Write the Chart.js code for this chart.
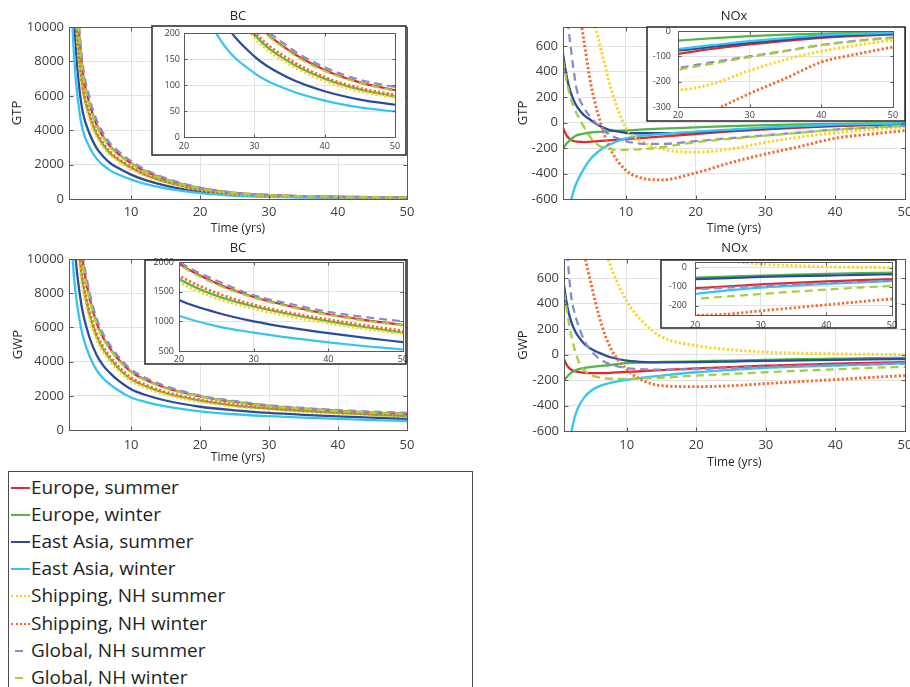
<!DOCTYPE html>
<html>
<head>
<meta charset="utf-8">
<script src="https://cdn.jsdelivr.net/npm/chart.js@4.4.1/dist/chart.umd.min.js"></script>
<style>
  html, body { margin: 0; padding: 0; background: #fff; overflow: hidden; }
  body { width: 910px; height: 687px; position: relative; }
  canvas { position: absolute; }
  #legend {
    position: absolute; left: 8px; top: 471px; width: 463px; height: 240px;
    border: 1px solid #4d4d4d; background: #fff;
    font-family: 'Open Sans', sans-serif; font-size: 19px; color: #231f20;
  }
  .row { position: absolute; left: 0; width: 100%; height: 27px; }
  .swatch { position: absolute; top: 13px; height: 0; }
  .name { position: absolute; left: 22px; top: 0; line-height: 27px; white-space: nowrap; }
</style>
</head>
<body>
<div id="legend"></div>
<script>
// years after emission, shared by every curve
const YEARS = [1, 1.5, 2, 2.5, 3, 4, 5, 6, 7, 8, 10, 12, 15, 20, 25, 30, 35, 40, 45, 50];

const SERIES = [
  'Europe, summer', 'Europe, winter', 'East Asia, summer', 'East Asia, winter',
  'Shipping, NH summer', 'Shipping, NH winter', 'Global, NH summer', 'Global, NH winter'
];

// one row per series, same order as SERIES
const BC_GTP = [
  [29400, 18400, 12700, 9400, 7360, 5520, 4320, 3590, 3040, 2670, 2080, 1620, 1140, 626, 350, 226, 166, 129, 105, 90],
  [25600, 16000, 11040, 8160, 6400, 4800, 3760, 3120, 2640, 2320, 1810, 1410, 990, 545, 305, 197, 144, 112, 91, 78],
  [20160, 12600, 8690, 6430, 5040, 3780, 2960, 2460, 2080, 1830, 1420, 1110, 780, 430, 240, 155, 113, 88, 72, 62],
  [16000, 10000, 6900, 5100, 4000, 3000, 2350, 1950, 1650, 1450, 1130, 880, 620, 340, 190, 123, 90, 70, 57, 49],
  [24800, 15500, 10700, 7900, 6200, 4650, 3640, 3020, 2560, 2250, 1750, 1365, 960, 527, 295, 191, 140, 108, 88, 76],
  [26400, 16500, 11400, 8400, 6600, 4950, 3880, 3220, 2720, 2390, 1865, 1450, 1025, 561, 314, 203, 149, 115, 94, 81],
  [31200, 19500, 13450, 9950, 7800, 5850, 4580, 3800, 3220, 2830, 2200, 1720, 1210, 663, 370, 234, 172, 134, 110, 96],
  [29100, 18200, 12560, 9280, 7280, 5460, 4280, 3550, 3000, 2640, 2060, 1600, 1130, 619, 346, 224, 164, 127, 104, 89]
];

const NOX_GTP = [
  [-40, -100, -130, -145, -150, -153, -150, -146, -142, -138, -130, -122, -110, -90, -70, -53, -39, -27, -19, -13],
  [-209, -165, -139, -115, -99, -86, -78, -73, -70, -67, -62, -56, -48, -38, -28, -20, -14, -10, -7, -5],
  [541, 370, 255, 180, 125, 58, 18, -20, -45, -62, -80, -84, -84, -77, -62, -47, -34, -23, -15, -10],
  [-1300, -900, -660, -540, -465, -361, -282, -230, -191, -165, -125, -105, -90, -71, -55, -40, -28, -17, -11, -7],
  [1650, 1550, 1450, 1350, 1250, 1060, 870, 670, 450, 245, -40, -137, -205, -232, -207, -156, -113, -80, -56, -36],
  [1700, 1530, 1360, 1180, 1000, 640, 300, 70, -105, -230, -375, -432, -450, -395, -315, -247, -187, -123, -91, -63],
  [1100, 880, 640, 420, 250, 115, 40, -20, -70, -105, -145, -165, -168, -146, -122, -100, -78, -55, -38, -25],
  [490, 330, 210, 130, 65, -35, -120, -175, -200, -210, -215, -210, -195, -154, -128, -103, -80, -56, -40, -27]
];

const BC_GWP = [
  [27400, 18260, 14140, 11635, 9845, 7700, 6265, 5370, 4745, 4205, 3400, 2955, 2470, 1970, 1640, 1410, 1250, 1120, 1020, 940],
  [23900, 15900, 12300, 10140, 8580, 6710, 5460, 4680, 4130, 3670, 2960, 2575, 2150, 1715, 1430, 1250, 1115, 1000, 900, 810],
  [19100, 12750, 9880, 8130, 6880, 5380, 4380, 3750, 3310, 2940, 2380, 2060, 1725, 1360, 1150, 1000, 890, 800, 720, 650],
  [15300, 10200, 7900, 6500, 5500, 4300, 3500, 3000, 2650, 2350, 1900, 1650, 1380, 1095, 920, 810, 720, 645, 580, 525],
  [23100, 15400, 11930, 9815, 8300, 6490, 5285, 4530, 4000, 3550, 2870, 2490, 2085, 1660, 1390, 1215, 1080, 970, 870, 790],
  [24600, 16420, 12720, 10465, 8855, 6920, 5635, 4830, 4265, 3785, 3060, 2655, 2220, 1770, 1480, 1280, 1140, 1030, 930, 840],
  [28500, 18970, 14690, 12090, 10230, 8000, 6510, 5580, 4930, 4370, 3535, 3070, 2570, 2010, 1690, 1440, 1290, 1160, 1070, 1000],
  [27100, 18050, 13980, 11505, 9735, 7610, 6195, 5310, 4690, 4160, 3365, 2920, 2440, 1955, 1625, 1400, 1240, 1110, 1010, 930]
];

const NOX_GWP = [
  [-38, -91, -117, -130, -136, -143, -146, -146, -145, -142, -136, -131, -122, -109, -98, -88, -80, -72, -66, -60],
  [-204, -170, -144, -128, -117, -104, -96, -91, -86, -80, -68, -63, -58, -53, -47, -42, -37, -33, -29, -26],
  [542, 370, 265, 195, 146, 80, 41, 15, -8, -25, -48, -57, -61, -60, -55, -49, -45, -42, -38, -35],
  [-1300, -850, -630, -500, -420, -330, -280, -250, -232, -218, -198, -183, -165, -139, -120, -105, -95, -86, -78, -70],
  [1760, 1680, 1600, 1520, 1440, 1280, 1120, 960, 800, 650, 420, 275, 140, 70, 38, 19, 11, 5, 2, 0],
  [1700, 1530, 1370, 1200, 1040, 770, 530, 310, 140, 20, -115, -195, -244, -252, -245, -228, -212, -196, -180, -165],
  [1100, 770, 470, 330, 240, 100, 25, -30, -62, -82, -105, -115, -118, -114, -105, -96, -89, -82, -76, -70],
  [490, 315, 160, 45, -40, -128, -162, -180, -187, -190, -191, -188, -182, -165, -152, -139, -127, -116, -105, -96]
];

const X_TICKS = [10, 20, 30, 40, 50];
const INSET_X_TICKS = [20, 30, 40, 50];
const BC_TICKS = [0, 2000, 4000, 6000, 8000, 10000];
const NOX_TICKS = [-600, -400, -200, 0, 200, 400, 600];
const BC_GTP_INSET_TICKS = [0, 50, 100, 150, 200];
const NOX_GTP_INSET_TICKS = [-300, -200, -100, 0];
const BC_GWP_INSET_TICKS = [500, 1000, 1500, 2000];
const NOX_GWP_INSET_TICKS = [-200, -100, 0];

const STYLES = [
  { color: '#e3282d', dash: 'solid' },
  { color: '#4eb748', dash: 'solid' },
  { color: '#2b4c9e', dash: 'solid' },
  { color: '#37c4ee', dash: 'solid' },
  { color: '#ffd21d', dash: 'dot' },
  { color: '#f46a2c', dash: 'dot' },
  { color: '#898bcb', dash: 'dash' },
  { color: '#a7cf3a', dash: 'dash' }
];

const FONT = "'Open Sans', sans-serif";
Chart.defaults.font.family = FONT;
Chart.defaults.color = '#404040';

// box around the plot area, inward tick marks, panel title, inset frame
const framePlugin = {
  id: 'frame',
  beforeDraw(chart, args, opts) {
    if (!opts.box) return;
    const ctx = chart.ctx, b = opts.box;
    ctx.save();
    ctx.fillStyle = '#fff';
    ctx.fillRect(b[0], b[1], b[2] - b[0], b[3] - b[1]);
    ctx.restore();
  },
  afterDraw(chart, args, opts) {
    const { ctx, chartArea: a, scales } = chart;
    const L = Math.round(a.left) + 0.5, R = Math.round(a.right) + 0.5;
    const T = Math.round(a.top) + 0.5, B = Math.round(a.bottom) + 0.5;
    ctx.save();
    ctx.strokeStyle = '#5a5a5a';
    ctx.lineWidth = 1;
    ctx.beginPath();
    const tl = opts.tick || 4;
    scales.x.ticks.forEach(t => {
      const p = Math.round(scales.x.getPixelForValue(t.value)) + 0.5;
      ctx.moveTo(p, B); ctx.lineTo(p, B - tl);
      ctx.moveTo(p, T); ctx.lineTo(p, T + tl);
    });
    scales.y.ticks.forEach(t => {
      const p = Math.round(scales.y.getPixelForValue(t.value)) + 0.5;
      ctx.moveTo(L, p); ctx.lineTo(L + tl, p);
      ctx.moveTo(R, p); ctx.lineTo(R - tl, p);
    });
    ctx.stroke();
    ctx.strokeRect(L, T, R - L, B - T);
    if (opts.box) {
      const b = opts.box;
      ctx.strokeStyle = '#262626';
      ctx.lineWidth = 1.5;
      ctx.strokeRect(b[0], b[1], b[2] - b[0], b[3] - b[1]);
    }
    if (opts.title) {
      ctx.fillStyle = '#262626';
      ctx.font = '13px ' + FONT;
      ctx.textAlign = 'center';
      ctx.textBaseline = 'middle';
      ctx.fillText(opts.title, (a.left + a.right) / 2, opts.titleY);
    }
    ctx.restore();
  }
};

function datasets(values, lw) {
  return values.map((ys, i) => {
    const st = STYLES[i];
    return {
      label: SERIES[i],
      data: YEARS.map((x, j) => ({ x: x, y: ys[j] })),
      borderColor: st.color,
      backgroundColor: st.color,
      borderWidth: st.dash === 'dot' ? lw + 0.6 : lw,
      borderDash: st.dash === 'dot' ? [2.2, 2.2] : st.dash === 'dash' ? [8, 5] : [],
      pointRadius: 0,
      fill: false,
      cubicInterpolationMode: 'monotone',
      order: values.length - i
    };
  });
}

// o.canvas = [left, top, width, height], o.area / o.box = [left, top, right, bottom], page pixels
function panel(o) {
  const [cl, ct, cw, ch] = o.canvas;
  const [al, at, ar, ab] = o.area;
  const cv = document.createElement('canvas');
  cv.width = cw;
  cv.height = ch;
  cv.style.left = cl + 'px';
  cv.style.top = ct + 'px';
  cv.style.width = cw + 'px';
  cv.style.height = ch + 'px';
  document.body.appendChild(cv);

  const box = o.box ? [o.box[0] - cl, o.box[1] - ct, o.box[2] - cl, o.box[3] - ct] : null;
  const grid = { color: '#e2e2e2', lineWidth: 1, drawTicks: false };

  new Chart(cv, {
    type: 'line',
    data: { datasets: datasets(o.values, o.lw) },
    options: {
      responsive: false,
      animation: false,
      events: [],
      layout: { padding: { left: 0, top: at - ct, right: cl + cw - ar, bottom: 0 } },
      plugins: {
        legend: { display: false },
        tooltip: { enabled: false },
        frame: { box: box, title: o.title, titleY: o.titleY - ct, tick: o.tick }
      },
      scales: {
        x: {
          type: 'linear', min: o.x[0], max: o.x[1],
          afterBuildTicks: s => { s.ticks = o.xTicks.map(v => ({ value: v })); },
          afterFit: s => { s.height = ct + ch - ab; s.paddingLeft = 0; s.paddingRight = 0; },
          grid: grid,
          border: { display: false },
          ticks: {
            autoSkip: false, maxRotation: 0, padding: o.xPad,
            font: { size: o.fs }, callback: v => String(v)
          },
          title: o.xTitle ? {
            display: true, text: o.xTitle, color: '#262626',
            font: { size: 12 }, padding: { top: 0, bottom: o.xTitlePad }
          } : { display: false }
        },
        y: {
          type: 'linear', min: o.y[0], max: o.y[1],
          afterBuildTicks: s => { s.ticks = o.yTicks.map(v => ({ value: v })); },
          afterFit: s => { s.width = al - cl; s.paddingTop = 0; s.paddingBottom = 0; },
          grid: grid,
          border: { display: false },
          ticks: {
            autoSkip: false, padding: o.yPad,
            font: { size: o.fs }, callback: v => String(v)
          },
          title: o.yTitle ? {
            display: true, text: o.yTitle, color: '#262626',
            font: { size: 13 }, padding: { top: o.yTitlePad, bottom: 0 }
          } : { display: false }
        }
      }
    },
    plugins: [framePlugin]
  });
}

const MAIN = { x: [1, 50], xTicks: X_TICKS, fs: 13, lw: 2.3, xPad: 5, yPad: 5, xTitle: 'Time (yrs)' };
const INSET = { x: [20, 50], xTicks: INSET_X_TICKS, fs: 9, lw: 2.2, tick: 3 };

panel(Object.assign({}, MAIN, {
  canvas: [0, 0, 420, 245], area: [69, 27, 407, 199],
  y: [0, 10000], yTicks: BC_TICKS, values: BC_GTP,
  xTitlePad: 8.8, yTitle: 'GTP', yTitlePad: 9, title: 'BC', titleY: 16
}));
panel(Object.assign({}, MAIN, {
  canvas: [490, 0, 430, 245], area: [563, 27, 905, 199],
  y: [-600, 750], yTicks: NOX_TICKS, values: NOX_GTP,
  xTitlePad: 8.8, yTitle: 'GTP', yTitlePad: 25, title: 'NOx', titleY: 16
}));
panel(Object.assign({}, MAIN, {
  canvas: [0, 235, 420, 240], area: [69, 259, 407, 430],
  y: [0, 10000], yTicks: BC_TICKS, values: BC_GWP, xPad: 7,
  xTitlePad: 9.8, yTitle: 'GWP', yTitlePad: 10, title: 'BC', titleY: 248
}));
panel(Object.assign({}, MAIN, {
  canvas: [490, 235, 430, 240], area: [564, 259, 905, 431],
  y: [-600, 750], yTicks: NOX_TICKS, values: NOX_GWP, xPad: 6,
  xTitlePad: 4.8, yTitle: 'GWP', yTitlePad: 25, title: 'NOx', titleY: 248
}));

// zoomed views of years 20-50
panel(Object.assign({}, INSET, {
  canvas: [140, 18, 275, 145], area: [184, 33, 395, 137], box: [152, 26, 406, 155],
  y: [0, 200], yTicks: BC_GTP_INSET_TICKS, values: BC_GTP, xPad: 3.6, yPad: 4
}));
panel(Object.assign({}, INSET, {
  canvas: [635, 19, 285, 110], area: [678, 31, 893, 107], box: [647, 27, 905, 121],
  y: [-300, 0], yTicks: NOX_GTP_INSET_TICKS, values: NOX_GTP, xPad: 3.3, yPad: 7
}));
panel(Object.assign({}, INSET, {
  canvas: [135, 252, 280, 120], area: [179, 262, 403, 351], box: [145, 260, 406, 364],
  y: [500, 2000], yTicks: BC_GWP_INSET_TICKS, values: BC_GWP, xPad: 2.6, yPad: 5
}));
panel(Object.assign({}, INSET, {
  canvas: [650, 252, 260, 85], area: [695, 262, 892, 315], box: [661, 260, 896, 328],
  y: [-250, 30], yTicks: NOX_GWP_INSET_TICKS, values: NOX_GWP, xPad: 4.6, yPad: 8
}));

// legend box
const legend = document.getElementById('legend');
SERIES.forEach((name, i) => {
  const st = STYLES[i];
  const row = document.createElement('div');
  row.className = 'row';
  row.style.top = (2 + 27.1 * i) + 'px';
  const sw = document.createElement('div');
  sw.className = 'swatch';
  if (st.dash === 'dash') {
    sw.style.left = '6px';
    sw.style.width = '8px';
    sw.style.borderTop = '2px solid ' + st.color;
  } else {
    sw.style.left = '2px';
    sw.style.width = '19px';
    sw.style.borderTop = '2px ' + (st.dash === 'dot' ? 'dotted ' : 'solid ') + st.color;
  }
  const label = document.createElement('div');
  label.className = 'name';
  label.textContent = name;
  row.appendChild(sw);
  row.appendChild(label);
  legend.appendChild(row);
});
</script>
</body>
</html>
